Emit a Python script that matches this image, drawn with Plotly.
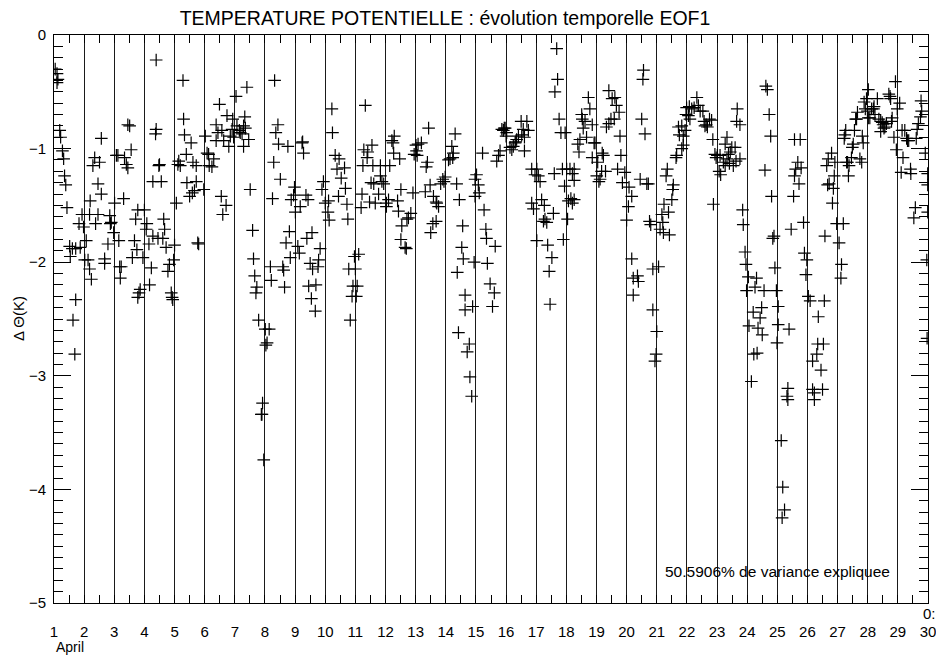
import plotly.graph_objects as go

# Time in days of April (fractional) and potential temperature anomaly (K)
time_days = [
    # day 1
    1.04, 1.10, 1.13, 1.10, 1.19, 1.22, 1.28, 1.32, 1.35, 1.39, 1.43, 1.52, 1.54, 1.61, 1.72, 1.87, 1.72, 1.63, 1.69, 1.83, 1.93, 1.98,
    # day 2
    2.18, 2.46, 2.38, 2.20, 2.57, 2.46, 2.29, 2.35, 2.51, 2.57, 2.07, 2.02, 2.13, 2.18, 2.24, 2.68, 2.68, 2.79, 2.85, 2.90, 2.87,
    # day 3
    3.01, 2.98, 3.15, 3.18, 3.23, 3.20, 3.07, 3.12, 3.34, 3.40, 3.45, 3.45, 3.51, 3.56, 3.31, 3.60, 3.67, 3.75, 3.71, 3.78, 4.00, 3.95, 4.06, 4.08, 4.15,
    # day 4
    3.82, 3.86, 3.78, 4.23, 4.17, 4.28, 4.45, 4.61, 4.67, 4.64, 4.72, 4.39, 4.37, 4.50, 4.48, 4.28, 4.56, 4.39, 4.78, 4.83, 4.89, 4.92, 4.94, 4.97, 5.00, 5.06,
    # day 5
    5.14, 5.19, 5.11, 5.28, 5.30, 5.33, 5.39, 5.55, 5.61, 5.72, 5.41, 5.50, 5.59, 5.66, 5.72, 5.77, 5.80, 5.97,
    # day 6
    6.02, 6.08, 6.13, 6.15, 6.24, 6.30, 6.38, 6.44, 6.49, 6.38, 6.57, 6.63, 6.74, 6.80, 6.85, 6.91, 6.93, 6.96, 6.55, 6.71, 6.60,
    # day 7
    7.04, 7.40, 7.33, 7.07, 7.15, 7.24, 7.29, 7.35, 7.46, 7.29, 7.18, 7.51, 7.59, 7.62, 7.66, 7.73, 7.70, 7.79,
    # day 8
    8.32, 8.43, 8.36, 8.45, 8.76, 8.29, 8.51, 8.25, 8.01, 8.14, 8.07, 8.03, 7.92, 7.88, 7.90, 7.96, 8.18, 8.21, 8.59, 8.62, 8.65, 8.84, 8.81, 8.70,
    # day 9
    8.98, 8.95, 8.87, 9.01, 9.17, 9.25, 9.28, 9.23, 9.09, 9.14, 9.36, 9.43, 9.56, 9.39, 9.83, 9.50, 9.58, 9.78, 9.76, 9.45, 9.69, 9.54, 9.67, 9.94, 9.89,
    # day 10
    10.00, 10.11, 10.09, 10.13, 10.22, 10.24, 10.33, 10.39, 10.46, 10.53, 10.44, 10.64, 10.67, 10.72, 10.75, 10.97, 10.78, 10.92, 10.89, 10.83,
    # day 11
    11.11, 11.00, 11.06, 11.03, 11.33, 11.28, 11.41, 11.39, 11.55, 11.25, 11.58, 11.83, 12.14, 11.52, 11.61, 11.83, 11.88, 11.94, 11.22, 11.19, 11.47, 11.66, 11.77, 12.03, 12.03,
    # day 12
    12.21, 12.29, 12.25, 12.27, 12.47, 12.10, 12.40, 12.51, 12.43, 12.54, 12.71, 12.76, 12.51, 12.65, 12.69, 12.84, 12.91,
    # day 13
    12.95, 13.03, 13.08, 13.19, 13.01, 13.05, 13.43, 13.39, 13.35, 13.48, 13.32, 13.59, 13.68, 13.76, 13.70, 13.57, 13.68, 13.50, 13.83, 13.90, 13.98, 13.94,
    # day 14
    14.31, 14.20, 14.25, 14.23, 14.09, 14.14, 14.36, 14.45, 14.56, 14.53, 14.58, 14.38, 14.94, 14.64, 14.64, 14.89, 14.42, 14.78, 14.71, 14.80, 14.86,
    # day 15
    14.97, 15.02, 15.08, 15.11, 15.22, 14.97, 15.27, 15.33, 15.35, 15.38, 15.47, 15.61, 15.55, 15.64, 15.69, 15.75, 15.80, 15.86, 15.91, 15.97, 15.94,
    # day 16
    16.02, 16.00, 16.13, 16.19, 16.24, 16.30, 16.35, 16.41, 16.32, 16.50, 16.69, 16.57, 16.52, 16.74, 16.61, 16.61, 16.85, 17.02, 16.96, 17.07, 17.13, 16.85, 16.91, 17.02,
    # day 17
    17.18, 17.27, 17.29, 17.24, 17.35, 17.57, 17.38, 17.52, 17.43, 17.46, 17.60, 17.68, 17.71, 17.62, 17.76, 17.82, 17.96, 17.87, 17.94, 17.90,
    # day 18
    18.01, 18.12, 18.20, 18.26, 18.26, 18.07, 18.15, 18.20, 18.26, 18.04, 18.38, 18.45, 18.51, 18.53, 18.56, 18.62, 18.73, 18.78, 18.67, 18.86,
    18.42, 18.86, 18.95, 19.04, 18.92, 19.08, 19.12, 19.17, 19.01, 19.19, 19.23,
    # day 19
    19.30, 19.41, 19.52, 19.61, 19.66, 19.48, 19.59, 19.75, 19.33, 19.41, 19.78, 19.81, 19.70, 19.94, 19.86, 20.00, 20.06, 20.17, 20.08, 20.17,
    20.22, 20.22, 20.36, 20.39,
    # day 20
    20.56, 20.54, 20.50, 20.61, 20.45, 20.67, 20.72, 20.76, 20.80, 20.87, 21.06, 20.87, 21.00, 20.98, 20.94,
    # day 21
    21.11, 21.22, 21.20, 21.17, 21.42, 21.39, 21.24, 21.50, 21.55, 21.53, 21.31, 21.35, 21.64, 21.66, 21.88, 21.83, 21.88, 21.75, 21.72, 21.83,
    21.94, 21.97, 21.99, 22.08, 22.16, 22.24, 22.33, 22.38, 22.44, 22.53,
    # day 22
    22.10, 22.05, 22.57, 22.64, 22.68, 22.75, 22.82, 22.60, 22.86, 22.88, 22.97, 23.01, 23.10, 22.93,
    # day 23
    23.33, 23.27, 23.38, 23.49, 23.60, 23.44, 23.07, 23.12, 23.21, 23.27, 23.41, 23.33, 23.76, 23.63, 23.54, 23.67, 23.65, 23.76, 23.85, 23.87,
    23.93, 23.96, 23.98,
    # day 24
    24.04, 24.31, 24.26, 24.56, 24.48, 24.20, 24.43, 24.06, 24.36, 24.50, 24.22, 24.33, 24.14, 24.62, 24.67, 24.73, 24.78, 24.59, 24.81, 24.89,
    24.85, 24.92, 24.97, 25.03, 25.03, 24.99,
    # day 25
    25.39, 25.35, 25.32, 25.35, 25.13, 25.18, 25.24, 25.16, 25.57, 25.76, 25.68, 25.61, 25.79, 25.57, 25.72, 25.54, 25.46, 25.87, 25.90, 25.98, 25.95,
    # day 26
    26.03, 26.09, 26.56, 26.36, 26.34, 26.53, 26.31, 26.17, 26.45, 26.17, 26.23, 26.50, 26.23, 26.58, 26.86, 26.72, 26.67, 26.80, 26.69, 26.64,
    26.91, 26.89, 26.83, 26.97, 27.19, 27.05, 27.13, 27.11,
    # day 27
    27.24, 27.22, 27.27, 27.30, 27.38, 27.36, 27.33, 27.49, 27.52, 27.56, 27.60, 27.66, 27.63, 27.74, 27.80, 27.82, 27.85, 27.46, 27.88, 27.96,
    28.02, 27.92, 27.99, 28.07, 28.02,
    # day 28
    28.13, 28.19, 28.24, 28.21, 28.32, 28.37, 28.43, 28.48, 28.51, 28.57, 28.62, 28.54, 28.43, 28.70, 28.76, 28.74, 28.81, 28.79, 28.92, 28.98,
    29.06, 28.87, 28.95,
    # day 29
    29.14, 29.23, 29.29, 29.32, 29.36, 29.17, 29.11, 29.42, 29.43, 29.61, 29.64, 29.68, 29.75, 29.79, 29.77, 29.91, 29.58, 29.53, 29.99, 29.99,
    29.99, 29.96, 29.97,
]

delta_theta = [
    # day 1
    -0.30, -0.34, -0.39, -0.42, -0.84, -0.90, -1.02, -1.09, -1.24, -1.32, -1.52, -1.86, -1.95, -1.88, -1.88, -1.87, -2.33, -2.51, -2.81, -1.66, -1.58, -1.69,
    # day 2
    -1.58, -1.58, -1.66, -1.46, -1.40, -1.31, -1.15, -1.08, -1.12, -0.91, -1.81, -1.98, -1.98, -2.06, -2.15, -1.97, -2.01, -1.84, -1.59, -1.65, -1.66,
    # day 3
    -1.48, -1.74, -1.81, -2.04, -2.04, -2.14, -1.06, -1.06, -1.08, -1.14, -1.17, -0.79, -0.80, -1.01, -1.44, -1.96, -1.81, -1.89, -1.62, -1.54, -1.54, -1.96, -1.71, -1.66, -1.84,
    # day 4
    -2.27, -2.24, -2.31, -2.05, -2.20, -1.77, -1.79, -1.79, -1.71, -1.62, -1.87, -0.83, -0.87, -1.14, -1.15, -1.29, -1.29, -0.22, -2.08, -2.02, -2.27, -2.31, -2.33, -1.98, -1.85, -1.48,
    # day 5
    -1.11, -1.15, -1.14, -0.40, -0.74, -0.88, -1.05, -0.95, -1.12, -1.15, -1.30, -1.42, -1.39, -1.37, -1.29, -1.83, -1.84, -1.36,
    # day 6
    -0.89, -1.04, -1.05, -1.15, -1.16, -1.09, -0.93, -0.86, -0.61, -0.79, -0.84, -0.93, -0.71, -0.98, -0.89, -0.83, -0.74, -0.90, -1.42, -1.50, -1.58,
    # day 7
    -0.54, -0.46, -0.72, -0.80, -0.84, -0.87, -0.80, -0.82, -0.92, -0.98, -0.86, -1.36, -1.72, -1.97, -2.12, -2.22, -2.27, -2.51,
    # day 8
    -0.40, -0.79, -0.86, -0.96, -0.98, -1.12, -1.27, -1.44, -2.59, -2.59, -2.71, -2.73, -3.24, -3.34, -3.34, -3.74, -2.04, -2.16, -2.04, -2.07, -2.22, -1.96, -1.73, -1.83,
    # day 9
    -1.34, -1.41, -1.45, -1.56, -1.51, -0.94, -1.04, -0.95, -1.86, -1.92, -1.41, -1.45, -1.74, -1.79, -1.88, -2.01, -2.06, -1.98, -2.04, -2.21, -2.20, -2.32, -2.43, -1.29, -1.36,
    # day 10
    -1.48, -1.46, -1.56, -1.63, -0.65, -0.86, -1.06, -1.18, -1.09, -1.26, -1.42, -1.17, -1.35, -1.49, -1.62, -1.95, -2.06, -2.21, -2.30, -2.51,
    # day 11
    -1.93, -2.06, -2.21, -2.30, -0.62, -1.01, -1.03, -1.08, -0.97, -1.15, -1.15, -1.15, -1.15, -1.30, -1.31, -1.24, -1.29, -1.31, -1.40, -1.52, -1.47, -1.48, -1.40, -1.48, -1.51,
    # day 12
    -0.93, -0.89, -0.95, -1.04, -1.09, -1.45, -1.46, -1.36, -1.55, -1.68, -1.62, -1.61, -1.80, -1.87, -1.88, -1.57, -1.39,
    # day 13
    -1.05, -1.02, -0.96, -0.95, -0.97, -1.06, -0.82, -1.12, -1.16, -1.32, -1.38, -1.42, -1.47, -1.51, -1.48, -1.66, -1.64, -1.74, -1.31, -1.27, -1.25, -1.29,
    # day 14
    -0.87, -0.98, -1.04, -1.08, -1.10, -1.09, -1.31, -1.45, -1.68, -1.87, -1.97, -2.09, -2.00, -2.29, -2.42, -2.39, -2.62, -2.72, -2.79, -3.01, -3.18,
    # day 15
    -1.27, -1.23, -1.32, -1.39, -1.04, -1.42, -1.54, -1.71, -1.79, -2.01, -2.19, -2.27, -2.39, -1.86, -1.11, -1.06, -1.02, -0.83, -0.84, -0.82, -0.82,
    # day 16
    -0.86, -0.89, -0.99, -1.01, -0.98, -0.95, -0.92, -0.89, -0.94, -0.76, -0.76, -0.83, -0.88, -0.84, -0.90, -1.02, -1.18, -1.18, -1.23, -1.24, -1.29, -1.48, -1.53, -1.81,
    # day 17
    -1.45, -1.50, -1.62, -1.64, -1.65, -1.57, -1.85, -1.96, -2.08, -2.37, -1.22, -0.12, -0.39, -0.50, -0.74, -0.86, -0.86, -1.18, -1.33, -1.80,
    # day 18
    -1.18, -1.18, -1.22, -1.18, -1.28, -1.46, -1.44, -1.48, -1.45, -1.62, -0.96, -0.92, -0.70, -0.74, -0.82, -0.76, -0.55, -0.65, -0.90, -0.79,
    -1.03, -1.08, -0.95, -1.12, -0.95, -1.29, -1.27, -1.20, -1.24, -1.04, -1.06,
    # day 19
    -1.20, -0.49, -0.56, -0.55, -0.62, -0.74, -0.74, -0.68, -0.81, -0.78, -0.89, -1.06, -1.18, -1.21, -1.30, -1.63, -1.51, -1.42, -1.34, -1.97,
    -2.14, -2.29, -2.12, -2.17,
    # day 20
    -0.31, -0.39, -0.74, -0.87, -1.27, -1.31, -1.31, -1.64, -1.67, -2.06, -2.04, -2.42, -2.61, -2.81, -2.87,
    # day 21
    -1.71, -1.74, -1.65, -1.58, -1.76, -1.56, -1.49, -1.45, -1.32, -1.36, -1.24, -1.18, -1.08, -1.06, -0.97, -1.00, -0.89, -0.88, -0.81, -0.80,
    -0.84, -0.70, -0.64, -0.63, -0.65, -0.64, -0.55, -0.62, -0.67, -0.67,
    # day 22
    -0.74, -0.71, -0.76, -0.79, -0.81, -0.74, -0.75, -0.80, -0.92, -1.49, -1.08, -1.06, -1.06, -1.05,
    # day 23
    -0.90, -0.96, -1.05, -0.99, -0.99, -1.03, -1.20, -1.23, -1.12, -1.15, -1.13, -1.09, -1.09, -1.11, -1.15, -0.65, -0.76, -0.79, -1.54, -1.67,
    -1.91, -2.02, -2.25,
    # day 24
    -2.13, -2.14, -2.22, -2.25, -2.40, -2.44, -2.49, -2.56, -2.58, -2.64, -2.81, -2.80, -3.05, -0.45, -0.48, -0.70, -0.89, -1.19, -1.42, -1.77,
    -1.79, -2.05, -2.25, -2.39, -2.55, -2.71,
    # day 25
    -2.59, -3.11, -3.18, -3.21, -3.57, -3.98, -4.18, -4.25, -0.92, -0.92, -1.12, -1.18, -1.17, -1.24, -1.31, -1.42, -1.71, -1.65, -1.92, -1.98, -2.11,
    # day 26
    -2.30, -2.34, -2.34, -2.48, -2.72, -2.72, -2.81, -2.87, -2.95, -3.12, -3.15, -3.12, -3.21, -1.77, -1.35, -1.31, -1.32, -1.04, -1.09, -1.15,
    -1.12, -1.24, -1.48, -1.66, -1.66, -1.83, -2.02, -2.14,
    # day 27
    -0.88, -0.91, -0.84, -1.12, -1.15, -1.24, -1.12, -0.99, -0.96, -0.84, -0.74, -0.68, -0.74, -1.09, -1.12, -0.89, -0.95, -1.08, -0.59, -0.56,
    -0.48, -0.65, -0.67, -0.73, -0.73,
    # day 28
    -0.65, -0.65, -0.70, -0.63, -0.56, -0.74, -0.76, -0.77, -0.79, -0.81, -0.78, -0.82, -0.85, -0.52, -0.56, -0.54, -0.73, -0.76, -0.41, -0.65,
    -0.60, -0.90, -1.01,
    # day 29
    -0.84, -0.84, -0.91, -0.93, -0.93, -1.08, -1.21, -1.18, -1.22, -0.91, -0.83, -0.78, -0.72, -0.67, -0.58, -1.04, -1.52, -1.61, -1.22, -1.32,
    -1.56, -1.98, -2.67,
]

day_ticks = list(range(1, 31))
day_labels = [str(d) for d in day_ticks]
y_ticks = [0, -1, -2, -3, -4, -5]

title_text = "TEMPERATURE POTENTIELLE : évolution temporelle EOF1"
variance_text = "50.5906% de variance expliquee"
y_title = "Δ Θ(K)"

FONT = "Liberation Sans, Arial, Helvetica, sans-serif"

fig = go.Figure()
fig.add_trace(go.Scatter(
    x=time_days, y=delta_theta, mode="markers",
    marker=dict(symbol="cross-thin", size=9, color="black",
                line=dict(color="black", width=1.2)),
    showlegend=False, hoverinfo="x+y",
))

fig.update_layout(
    width=936, height=655,
    margin=dict(l=54, r=8, t=35, b=52),
    paper_bgcolor="white", plot_bgcolor="white",
    font=dict(family=FONT, size=15, color="black"),
    title=dict(text=title_text, x=445 / 936, xanchor="center", xref="container",
               y=1 - 18 / 655, yanchor="middle",
               font=dict(family=FONT, size=19.5, color="black")),
    xaxis=dict(
        range=[1, 30], tickmode="array", tickvals=day_ticks, ticktext=day_labels,
        showgrid=True, gridcolor="#1a1a1a", gridwidth=1,
        ticks="inside", ticklen=8, tickcolor="black", tickwidth=1,
        minor=dict(dtick=0.5, tick0=1, ticks="inside", ticklen=8,
                   tickcolor="black", tickwidth=1, showgrid=False),
        showline=True, linecolor="black", linewidth=1, mirror="allticks",
        zeroline=False, ticklabelstandoff=15, automargin=False,
        ticklabeloverflow="allow",
        tickfont=dict(family=FONT, size=15, color="black"),
    ),
    yaxis=dict(
        range=[-5, 0], tickmode="array", tickvals=y_ticks,
        showgrid=False, zeroline=False,
        ticks="inside", ticklen=17, tickcolor="black", tickwidth=1,
        minor=dict(dtick=0.1, tick0=0, ticks="inside", ticklen=9,
                   tickcolor="black", tickwidth=1, showgrid=False),
        showline=True, linecolor="black", linewidth=1, mirror="allticks",
        ticklabelstandoff=4, automargin=False, ticklabeloverflow="allow",
        tickfont=dict(family=FONT, size=15, color="black"),
    ),
    annotations=[
        dict(text=variance_text, xref="paper", yref="paper", x=0.828, y=0.055,
             xanchor="center", yanchor="middle", showarrow=False,
             font=dict(family=FONT, size=15.5, color="black")),
        dict(text=y_title, xref="paper", yref="paper", x=(18 - 54) / 874, y=0.5,
             xanchor="center", yanchor="middle", textangle=-90, showarrow=False,
             font=dict(family=FONT, size=15, color="black")),
        dict(text="April", xref="paper", yref="paper", x=0.0, y=(603 - 647) / 568,
             xanchor="left", yanchor="middle", showarrow=False,
             font=dict(family=FONT, size=14, color="black")),
        dict(text="0:", xref="paper", yref="paper", x=(928 - 54) / 874 + 0.002, y=(603 - 613) / 568,
             xanchor="center", yanchor="middle", showarrow=False,
             font=dict(family=FONT, size=15, color="black")),
    ],
)

fig.write_html(
    "out.html",
    config={"displayModeBar": False},
    post_script="document.body.style.margin='0';document.body.style.padding='0';",
)
